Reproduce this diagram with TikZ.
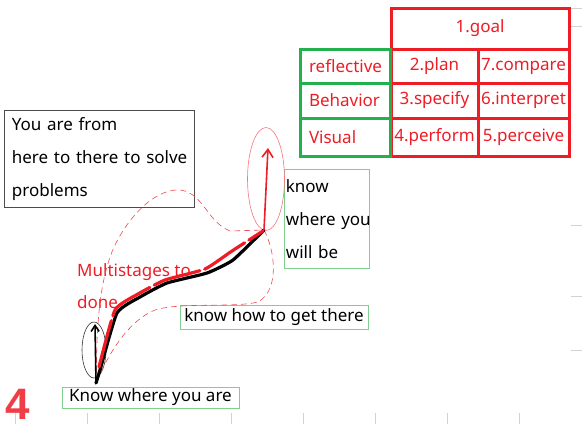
\documentclass[tikz,border=0pt]{standalone}
\usepackage{fontspec}
\setmainfont{Noto Sans}
\newfontfamily\markfont{Liberation Sans}
\usetikzlibrary{positioning,arrows.meta,shapes.geometric}
\definecolor{boardred}{HTML}{EE1C25}
\definecolor{boardgreen}{HTML}{22B14C}
\definecolor{notegreen}{HTML}{7FCF8E}

\begin{document}
\begin{tikzpicture}[x=1pt, y=-1pt,
  cell/.style={draw=boardred, line width=3pt, inner sep=0pt, text=boardred,
               font=\fontsize{17}{20}\selectfont},
  sidecell/.style={draw=boardgreen, line width=3pt, inner sep=0pt, text=boardred,
               minimum width=90pt, text width=72pt, align=left,
               font=\fontsize{17}{20}\selectfont},
  note/.style={draw=notegreen, line width=0.8pt, inner sep=0pt,
               font=\fontsize{17}{20}\selectfont},
  textbox/.style={draw=black!70, line width=0.8pt, inner sep=0pt, align=left,
               font=\fontsize{17}{33}\selectfont},
  lobe/.style={boardred!80, line width=0.6pt, dash pattern=on 6pt off 4pt},
  ring/.style={ellipse, draw, line width=0.6pt, inner sep=0pt},
  stroke/.style={line width=3.2pt, line cap=round},
  grid/.style={gray!35, line width=0.8pt},
]
\useasboundingbox (0,0) rectangle (582,424);

% sheet grid marks
\foreach \gx in {15,87,159,231,303,375,447,519}
  \draw[grid] (\gx,413) -- (\gx,424);
\foreach \gy in {8,26,225,296,350}
  \draw[grid] (571,\gy) -- (582,\gy);

% Row 0: goal
\node[cell, minimum width=178pt, minimum height=41pt] (goal) at (480,28.5) {1.goal};

% Rows 1-3: stages of action
\node[cell, minimum width=87pt, minimum height=34pt] (plan) at (434.5,66) {2.plan};
\node[cell, minimum width=91pt, minimum height=34pt] (compare) at (523.5,66) {7.compare};
\node[cell, minimum width=87pt, minimum height=35pt] (specify) at (434.5,100.5) {3.specify};
\node[cell, minimum width=91pt, minimum height=35pt] (interpret) at (523.5,100.5) {6.interpret};
\node[cell, minimum width=87pt, minimum height=38pt] (perform) at (434.5,137) {4.perform};
\node[cell, minimum width=91pt, minimum height=38pt] (perceive) at (523.5,137) {5.perceive};

% Levels
\node[sidecell, minimum height=34pt] (reflective) at (345,66) {reflective};
\node[sidecell, minimum height=35pt] (behavior) at (345,100.5) {Behavior};
\node[sidecell, minimum height=38pt] (visual) at (345,137) {Visual};

% Notes
\node[textbox, anchor=north west, minimum width=190pt, minimum height=97pt,
      text width=175pt, inner xsep=7.5pt] (idea) at (4,110)
  {You are from\\\mbox{here to there to solve}\\problems};
\node[note, anchor=north west, minimum width=85pt, minimum height=99pt,
      text width=82pt, inner xsep=1.5pt, align=left,
      font=\fontsize{17}{33}\selectfont] (future) at (284,169)
  {know\\\mbox{where you}\\will be};
\node[note, minimum width=188pt, minimum height=24pt] (route) at (274,317) {know how to get there};
\node[note, minimum width=177pt, minimum height=21pt] (start) at (150.5,397.5) {Know where you are};
\node[text=boardred, anchor=west, align=left, inner sep=0pt,
      font=\fontsize{17}{32}\selectfont] (stages) at (77,286) {Multistages to\\done};
\node[text=boardred!85, font=\markfont\fontsize{44}{44}\selectfont\bfseries, inner sep=0pt,
      anchor=base west] (num) at (5,419) {4};

% Path ends
\coordinate (here) at (96,383);
\coordinate (there) at (264,230);
\coordinate (uphere) at (95,324);
\coordinate (upthere) at (268,148);

% Rings round the two arrows
\node[ring, draw=black!80, minimum width=24pt, minimum height=56pt] (herering) at (94,350) {};
\node[ring, draw=boardred!60, minimum width=37pt, minimum height=103pt] (therering) at (266,179) {};

% Dashed outline of the way
\draw[lobe] (here) .. controls (97,345) and (96,285) .. (115,245)
  .. controls (135,205) and (165,185) .. (185,191)
  .. controls (205,198) and (208,222) .. (230,231) -- (there);
\draw[lobe] (there) .. controls (275,250) and (280,290) .. (258,302)
  .. controls (235,308) and (180,302) .. (155,310)
  .. controls (130,320) and (110,350) .. (here);

% The way
\draw[stroke, black] plot[smooth, tension=0.3] coordinates
  {(96,383) (100,370) (117,313) (140,297) (167,283) (207,273) (233,260) (264,230)};
\draw[stroke, boardred, dash pattern=on 48pt off 5pt] plot[smooth, tension=0.3] coordinates
  {(99,367) (115,310) (138,294) (165,280) (205,269) (232,251) (263,231)};

% Arrows
\draw[black, line width=1.6pt, -{Straight Barb[length=6pt, width=8pt]}] (here) -- (uphere);
\draw[boardred, line width=1.6pt, -{Straight Barb[length=8pt, width=11pt]}] (there) -- (upthere);

\end{tikzpicture}
\end{document}
